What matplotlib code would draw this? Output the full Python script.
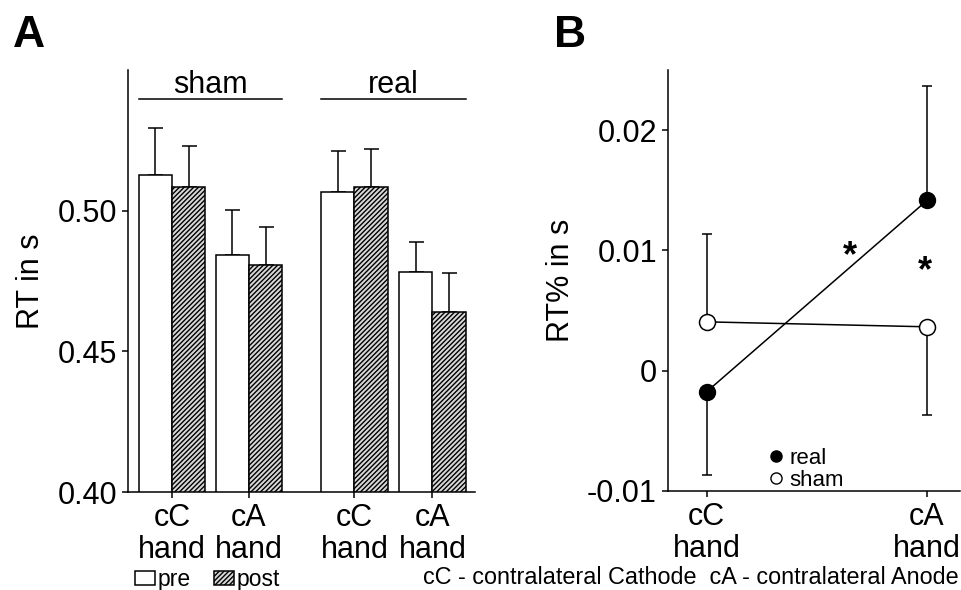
import matplotlib
matplotlib.use("Agg")
import matplotlib.pyplot as plt
from matplotlib.patches import Patch
from matplotlib.lines import Line2D

plt.rcParams['font.family'] = ['Liberation Sans', 'DejaVu Sans']
plt.rcParams['hatch.linewidth'] = 1.0

# panel A: mean RT (s), pre / post, error = upper SEM
groups = ["sham", "real"]
hand_labels = ["cC\nhand", "cA\nhand", "cC\nhand", "cA\nhand"]
rt_pre = [0.5127, 0.4843, 0.5067, 0.4783]
rt_post = [0.5085, 0.4807, 0.5085, 0.4641]
err_pre = [0.0167, 0.0161, 0.0146, 0.0107]
err_post = [0.0145, 0.0134, 0.0135, 0.0137]

# panel B: RT change (s)
cond_labels = ["cC\nhand", "cA\nhand"]
real_vals = [-0.00174, 0.01415]
real_lo = [0.0069, 0.0]
real_hi = [0.0, 0.0095]
sham_vals = [0.00406, 0.00365]
sham_lo = [0.0, 0.0073]
sham_hi = [0.0073, 0.0]

fig = plt.figure(figsize=(9.62, 5.9), dpi=100)

# ---------- panel A ----------
axA = fig.add_axes([0.1331, 0.1661, 0.3607, 0.7153])
centers = [1.32, 3.63, 6.80, 9.14]
w = 1.0
pre_x = [c - w / 2 for c in centers]
post_x = [c + w / 2 for c in centers]

axA.bar(pre_x, rt_pre, width=w, bottom=0, color="white", edgecolor="black", linewidth=1.1, zorder=2)
axA.bar(post_x, rt_post, width=w, bottom=0, color="#d8d8d8", edgecolor="black", linewidth=1.1,
        hatch="///////", zorder=2)
axA.errorbar(pre_x, rt_pre, yerr=[[0] * 4, err_pre], fmt="none", ecolor="black",
             elinewidth=1.1, capsize=5.4, capthick=1.1, zorder=1)
axA.errorbar(post_x, rt_post, yerr=[[0] * 4, err_post], fmt="none", ecolor="black",
             elinewidth=1.1, capsize=5.4, capthick=1.1, zorder=1)

for i, g in enumerate(groups):
    x0 = centers[2 * i] - w
    x1 = centers[2 * i + 1] + w
    axA.plot([x0, x1], [0.5396, 0.5396], color="black", lw=1.1, clip_on=False)
    axA.text((x0 + x1) / 2, 0.5418, g, ha="center", va="baseline", fontsize=22)

axA.set_xlim(0, 10.42)
axA.set_ylim(0.40, 0.55)
axA.set_yticks([0.40, 0.45, 0.50])
axA.set_yticklabels(["0.40", "0.45", "0.50"])
axA.set_xticks(centers)
axA.set_xticklabels(hand_labels, linespacing=1.1)
axA.set_ylabel("RT in s", fontsize=22, labelpad=8)
axA.spines[["top", "right"]].set_visible(False)
for s in ["left", "bottom"]:
    axA.spines[s].set_linewidth(1.1)
axA.tick_params(labelsize=22, length=4, width=1.1, pad=4)

# ---------- panel B ----------
axB = fig.add_axes([0.6944, 0.1678, 0.3035, 0.7136])
xb = [0, 1]
axB.errorbar(xb, real_vals, yerr=[real_lo, real_hi], fmt="none", ecolor="black",
             elinewidth=1.1, capsize=3.6, capthick=1.1, zorder=1)
axB.errorbar(xb, sham_vals, yerr=[sham_lo, sham_hi], fmt="none", ecolor="black",
             elinewidth=1.1, capsize=3.6, capthick=1.1, zorder=1)
axB.plot(xb, real_vals, color="black", lw=1.1, marker="o", markersize=11.5,
         markerfacecolor="black", markeredgecolor="black", zorder=3)
axB.plot(xb, sham_vals, color="black", lw=1.1, marker="o", markersize=11.5,
         markerfacecolor="white", markeredgecolor="black", markeredgewidth=1.1, zorder=3)

axB.text(0.651, 0.00868, "*", ha="center", va="baseline", fontsize=26, fontweight="bold")
axB.text(0.992, 0.00744, "*", ha="center", va="baseline", fontsize=26, fontweight="bold")

axB.set_xlim(-0.176, 1.15)
axB.set_ylim(-0.01, 0.025)
axB.set_yticks([-0.01, 0, 0.01, 0.02])
axB.set_yticklabels(["-0.01", "0", "0.01", "0.02"])
axB.set_xticks(xb)
axB.set_xticklabels(cond_labels, linespacing=1.1)
axB.set_ylabel("RT% in s", fontsize=22, labelpad=8)
axB.spines[["top", "right"]].set_visible(False)
for s in ["left", "bottom"]:
    axB.spines[s].set_linewidth(1.1)
axB.tick_params(labelsize=22, length=4, width=1.1, pad=4)

leg_handles = [
    Line2D([], [], ls="none", marker="o", markersize=8, markerfacecolor="black", markeredgecolor="black"),
    Line2D([], [], ls="none", marker="o", markersize=8, markerfacecolor="white", markeredgecolor="black"),
]
axB.legend(leg_handles, ["real", "sham"], loc="lower left", bbox_to_anchor=(0.34, 0.0),
           frameon=False, fontsize=16, handlelength=0.8, handletextpad=0.2,
           labelspacing=0.05, borderpad=0, borderaxespad=0)

# ---------- figure-level text ----------
fig.text(0.013, 0.975, "A", fontsize=32, fontweight="bold", va="top", ha="left")
fig.text(0.576, 0.975, "B", fontsize=32, fontweight="bold", va="top", ha="left")

bar_handles = [
    Patch(facecolor="white", edgecolor="black", linewidth=1.1),
    Patch(facecolor="#d8d8d8", edgecolor="black", linewidth=1.1, hatch="///////"),
]
fig.legend(bar_handles, ["pre", "post"], loc="center left", bbox_to_anchor=(0.140, 0.018),
           ncol=2, frameon=False, fontsize=16.5, handlelength=0.9, handleheight=0.6,
           handletextpad=0.1, columnspacing=1.0, borderpad=0, borderaxespad=0)

fig.text(0.996, 0.022, "cC - contralateral Cathode  cA - contralateral Anode",
         fontsize=16.8, ha="right", va="center")

fig.savefig("out.png", dpi=100)
